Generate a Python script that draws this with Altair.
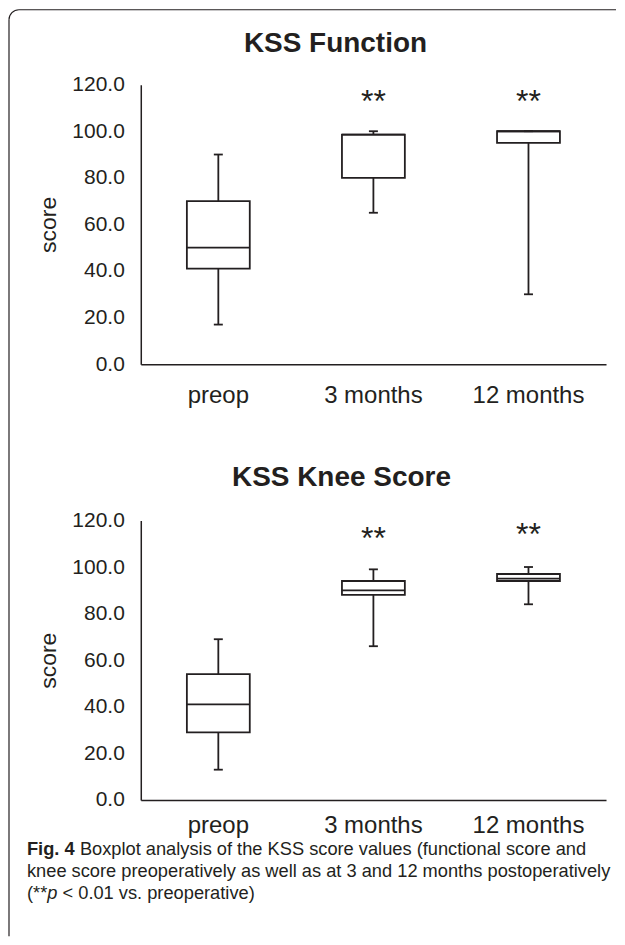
import altair as alt
import pandas as pd

# ---------------- data ----------------
categories = ["preop", "3 months", "12 months"]

func_lower = [17, 65, 30]
func_q1 = [41, 80, 95]
func_median = [50, 98.5, 100]
func_q3 = [70, 98.5, 100]
func_upper = [90, 100, 100]
func_star_cats = ["3 months", "12 months"]
func_star_y = [113.5, 113.5]

knee_lower = [13, 66, 84]
knee_q1 = [29, 88, 94]
knee_median = [41, 90, 95]
knee_q3 = [54, 94, 97]
knee_upper = [69, 99, 100]
knee_star_cats = ["3 months", "12 months"]
knee_star_y = [112.9, 114.7]

y_ticks = [0, 20, 40, 60, 80, 100, 120]

titles = ["KSS Function", "KSS Knee Score"]
cap_bold = ["Fig. 4"]
cap_line1 = ["Boxplot analysis of the KSS score values (functional score and"]
cap_line2 = ["knee score preoperatively as well as at 3 and 12 months postoperatively"]
cap_line3a = ["(**"]
cap_line3b = ["p"]
cap_line3c = ["< 0.01 vs. preoperative)"]

# ---------------- style ----------------
INK = "#231f20"
FONT = "Liberation Sans"
W, H = 466, 280
BOX_W = 63
CAP_W = 9
LW = 1.8
CAP_FS = 18.3


def text_layer(txt, x, y, size, weight="normal", style="normal", align="left", baseline="middle"):
    return alt.Chart(pd.DataFrame({"t": txt})).mark_text(
        font=FONT, fontSize=size, fontWeight=weight, fontStyle=style, color=INK,
        align=align, baseline=baseline,
    ).encode(x=alt.value(x), y=alt.value(y), text="t:N")


def panel(title, title_x, title_y, lower, q1, med, q3, upper, star_cats, star_y, label_pad):
    df = pd.DataFrame({"cat": categories, "lower": lower, "q1": q1,
                       "median": med, "q3": q3, "upper": upper})
    sdf = pd.DataFrame({"cat": star_cats, "y": star_y, "t": ["**"] * len(star_cats)})
    yscale = alt.Scale(domain=[0, 120], nice=False)
    xaxis = alt.Axis(title=None, labelAngle=0, ticks=False, labelFontSize=24,
                     labelPadding=label_pad, labelColor=INK, labelFont=FONT,
                     domainColor=INK, domainWidth=1.5, grid=False)
    xscale = alt.Scale(paddingInner=0, paddingOuter=0)
    yaxis = alt.Axis(values=y_ticks, format=".1f", ticks=False, grid=False,
                     labelFontSize=21, labelPadding=16.5, labelColor=INK, labelFont=FONT,
                     domainColor=INK, domainWidth=1.5, title="score", titleFont=FONT,
                     titleFontSize=23, titleFontWeight="normal", titleColor=INK,
                     titlePadding=11)

    def X():
        return alt.X("cat:N", sort=categories, scale=xscale, axis=xaxis)

    def Y(field):
        return alt.Y(field, scale=yscale, axis=yaxis)

    base = alt.Chart(df)
    r_low = base.mark_rule(color=INK, strokeWidth=LW).encode(x=X(), y=Y("lower:Q"), y2="q1:Q")
    r_up = base.mark_rule(color=INK, strokeWidth=LW).encode(x=X(), y=Y("q3:Q"), y2="upper:Q")
    box = base.mark_bar(size=BOX_W, fill="white", stroke=INK, strokeWidth=LW).encode(
        x=X(), y=Y("q1:Q"), y2="q3:Q")
    med_t = base.mark_tick(orient="horizontal", size=BOX_W, thickness=LW, color=INK, opacity=1).encode(
        x=X(), y=Y("median:Q"))
    cap_lo = base.mark_tick(orient="horizontal", size=CAP_W, thickness=LW, color=INK, opacity=1).encode(
        x=X(), y=Y("lower:Q"))
    cap_hi = base.mark_tick(orient="horizontal", size=CAP_W, thickness=LW, color=INK, opacity=1).encode(
        x=X(), y=Y("upper:Q"))
    stars = alt.Chart(sdf).mark_text(font=FONT, fontSize=32, color=INK, baseline="middle", dy=2).encode(
        x=X(), y=Y("y:Q"), text="t:N")
    ttl = text_layer([title], title_x, title_y, 28, weight="bold", align="center", baseline="alphabetic")
    return [r_low, r_up, box, med_t, cap_lo, cap_hi, stars, ttl]


top_layers = panel(titles[0], 195, -33, func_lower, func_q1, func_median, func_q3, func_upper,
                   func_star_cats, func_star_y, 19)
bot_layers = panel(titles[1], 201, -34.5, knee_lower, knee_q1, knee_median, knee_q3, knee_upper,
                   knee_star_cats, knee_star_y, 14)

# frame (decoration) in top panel coordinates
one = pd.DataFrame({"k": [0]})
frame_top = alt.Chart(one).mark_rule(color=INK, strokeWidth=1.2).encode(
    x=alt.value(-122), x2=alt.value(476), y=alt.value(-75))
frame_left = alt.Chart(one).mark_rule(color=INK, strokeWidth=1.2).encode(
    x=alt.value(-132), y=alt.value(-65), y2=alt.value(853))
frame_corner = alt.Chart(one).mark_arc(radius=10.6, radius2=9.4, theta=4.712389, theta2=6.283185,
                                       color=INK).encode(x=alt.value(-122), y=alt.value(-65))

caption = [
    text_layer(cap_bold, -114, 330.5, CAP_FS, weight="bold"),
    text_layer(cap_line1, -61, 330.5, CAP_FS),
    text_layer(cap_line2, -114, 352.5, CAP_FS),
    text_layer(cap_line3a, -114, 374, CAP_FS),
    text_layer(cap_line3b, -93.7, 374, CAP_FS, style="italic"),
    text_layer(cap_line3c, -78.4, 374, CAP_FS),
]

top = alt.layer(*top_layers, frame_top, frame_left, frame_corner).properties(width=W, height=H)
bottom = alt.layer(*bot_layers, *caption).properties(width=W, height=H)

chart = alt.vconcat(top, bottom, spacing=156.5, bounds="flush").properties(
    padding=0, background="white"
).configure(font=FONT).configure_view(stroke=None)

chart.save("out.html", embed_options={"renderer": "svg", "actions": False})
